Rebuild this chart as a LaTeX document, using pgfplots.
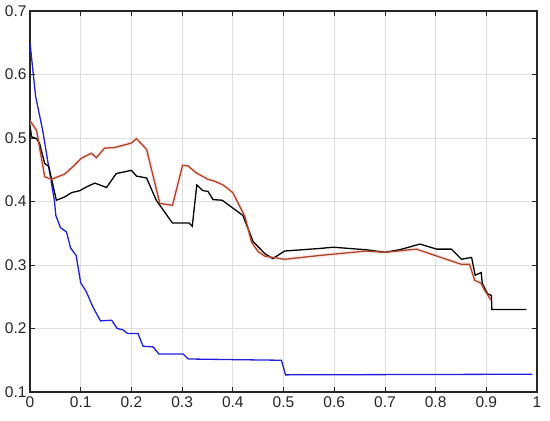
\documentclass[border=0pt]{standalone}
\usepackage{pgfplots}
\pgfplotsset{compat=1.18}
\usepackage{fontspec}
\setmainfont{Liberation Sans}
\definecolor{myblue}{RGB}{30,30,220}
\definecolor{myred}{RGB}{170,70,35}
\definecolor{halo}{RGB}{255,215,230}
\begin{document}
\begin{tikzpicture}
\begin{axis}[
  scale only axis, width=507pt, height=381pt,
  xmin=0, xmax=1, ymin=0.1, ymax=0.7,
  xtick={0,0.1,...,1}, ytick={0.1,0.2,...,0.7},
  xticklabels={0,0.1,0.2,0.3,0.4,0.5,0.6,0.7,0.8,0.9,1},
  yticklabels={0.1,0.2,0.3,0.4,0.5,0.6,0.7},
  tick align=inside, major tick length=5pt,
  tick style={black!85, line width=0.8pt},
  axis line style={black!85, line width=1.1pt},
  grid=major, major grid style={gray!25, line width=0.7pt},
  ticklabel style={font=\fontsize{15.5}{17}\selectfont, text=black!85},
  /pgf/number format/assume math mode=true,
  xticklabel style={yshift=-1pt},
  yticklabel style={xshift=0pt},
]
% blue
\addplot[myblue, line width=1.3pt] coordinates {
(0,0.65)(0.011,0.566)(0.025,0.512)(0.037,0.454)(0.048,0.402)(0.051,0.378)(0.060,0.359)(0.072,0.352)(0.080,0.327)(0.091,0.315)(0.100,0.272)(0.111,0.258)(0.124,0.234)(0.139,0.212)(0.161,0.213)(0.172,0.200)(0.183,0.198)(0.193,0.192)(0.213,0.192)(0.223,0.172)(0.243,0.171)(0.254,0.160)(0.302,0.160)(0.312,0.152)(0.40,0.151)(0.496,0.150)(0.504,0.127)(0.991,0.128)
};
% red halo
\addplot[halo, line width=4pt, opacity=0.6] coordinates {
(0,0.527)(0.013,0.512)(0.029,0.439)(0.042,0.435)(0.068,0.443)(0.085,0.455)(0.101,0.468)(0.121,0.476)(0.131,0.469)(0.147,0.484)(0.167,0.485)(0.200,0.492)(0.210,0.499)(0.230,0.482)(0.256,0.397)(0.281,0.394)(0.301,0.457)(0.312,0.456)(0.328,0.445)(0.351,0.435)(0.364,0.432)(0.381,0.426)(0.400,0.414)(0.424,0.376)(0.437,0.336)(0.450,0.321)(0.463,0.314)(0.502,0.309)(0.571,0.315)(0.663,0.322)(0.700,0.320)(0.762,0.325)(0.851,0.301)(0.867,0.301)(0.877,0.276)(0.890,0.271)(0.897,0.260)(0.909,0.245)
};
% black
\addplot[black, line width=1.3pt] coordinates {
(0,0.52)(0.003,0.502)(0.013,0.499)(0.019,0.491)(0.029,0.460)(0.037,0.455)(0.052,0.402)(0.068,0.407)(0.082,0.414)(0.098,0.417)(0.114,0.424)(0.128,0.429)(0.151,0.422)(0.170,0.444)(0.200,0.449)(0.210,0.440)(0.230,0.437)(0.249,0.402)(0.281,0.366)(0.314,0.366)(0.320,0.361)(0.329,0.426)(0.341,0.417)(0.351,0.416)(0.361,0.403)(0.379,0.402)(0.420,0.378)(0.440,0.337)(0.463,0.318)(0.479,0.310)(0.502,0.322)(0.571,0.326)(0.598,0.328)(0.663,0.324)(0.700,0.320)(0.729,0.324)(0.769,0.333)(0.802,0.325)(0.831,0.325)(0.851,0.309)(0.871,0.312)(0.878,0.284)(0.890,0.288)(0.892,0.271)(0.902,0.255)(0.910,0.252)(0.911,0.230)(0.979,0.230)
};
% red
\addplot[myred, line width=1.3pt] coordinates {
(0,0.527)(0.013,0.512)(0.029,0.439)(0.042,0.435)(0.068,0.443)(0.085,0.455)(0.101,0.468)(0.121,0.476)(0.131,0.469)(0.147,0.484)(0.167,0.485)(0.200,0.492)(0.210,0.499)(0.230,0.482)(0.256,0.397)(0.281,0.394)(0.301,0.457)(0.312,0.456)(0.328,0.445)(0.351,0.435)(0.364,0.432)(0.381,0.426)(0.400,0.414)(0.424,0.376)(0.437,0.336)(0.450,0.321)(0.463,0.314)(0.502,0.309)(0.571,0.315)(0.663,0.322)(0.700,0.320)(0.762,0.325)(0.851,0.301)(0.867,0.301)(0.877,0.276)(0.890,0.271)(0.897,0.260)(0.909,0.245)
};
\end{axis}
\path (current axis.south west) ++(-30pt,-28pt) (current axis.north east) ++(13pt,11pt);
\end{tikzpicture}
\end{document}
